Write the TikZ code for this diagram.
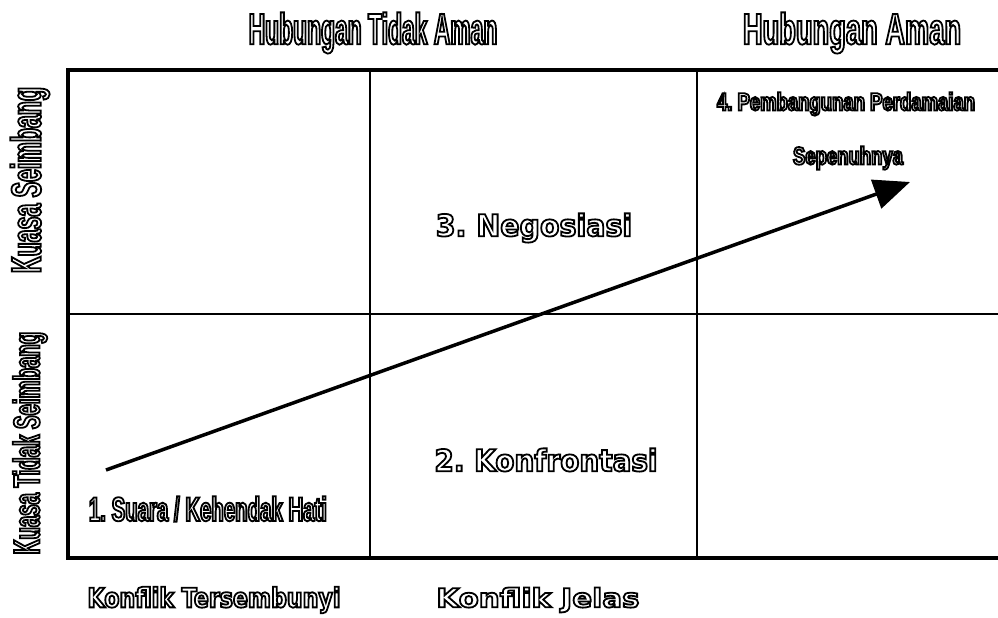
\documentclass[tikz,border=0pt]{standalone}
\usepackage{fontspec}
\usetikzlibrary{arrows.meta,positioning}
\frenchspacing
\newcommand{\fsz}[1]{\fontsize{#1}{#1}\selectfont}
% condensed and wide outline faces: stretch, size
\newcommand{\slim}[2]{\fontspec{Liberation Sans}[FakeStretch=#1]\bfseries\fsz{#2}}
\newcommand{\fat}[2]{\fontspec{DejaVu Sans}[FakeStretch=#1]\bfseries\fsz{#2}}
\newcommand{\hollow}[1]{\special{pdf:literal direct q 1 Tr 1.8 w}#1\special{pdf:literal direct Q}}
\begin{document}
\begin{tikzpicture}[x=1pt,y=-1pt,
  frame/.style={line width=4pt},
  grid/.style={line width=2pt},
  lbl/.style={inner sep=0pt}]
\useasboundingbox (0,0) rectangle (998,618);
% grid
\coordinate (nw) at (68,70);
\coordinate (sw) at (68,558);
\coordinate (ne) at (998,70);
\coordinate (se) at (998,558);
\draw[frame] (ne) -- (nw) -- (sw) -- (se);
\draw[grid] (370,70) -- (370,558);
\draw[grid] (697,70) -- (697,558);
\draw[grid] (68,314) -- (998,314);
% headings
\node[lbl,font=\slim{0.52}{44}] (unsafe) at (373,33) {\hollow{Hubungan Tidak Aman}};
\node[lbl,font=\slim{0.62}{44}] (safe) at (852,33) {\hollow{Hubungan Aman}};
\node[lbl,font=\slim{0.55}{42},rotate=90] (balanced) at (30,180) {\hollow{Kuasa Seimbang}};
\node[lbl,font=\slim{0.55}{37},rotate=90] (unbalanced) at (30,443) {\hollow{Kuasa Tidak Seimbang}};
\node[lbl,font=\fat{0.82}{27}] (hidden) at (214,600) {\hollow{Konflik Tersembunyi}};
\node[lbl,font=\fat{1.13}{26}] (open) at (538,600) {\hollow{Konflik Jelas}};
% stages
\node[lbl,font=\slim{0.6}{34}] (voice) at (208,509) {\hollow{1. Suara / Kehendak Hati}};
\node[lbl,font=\fat{0.93}{30}] (confront) at (546,460) {\hollow{2. Konfrontasi}};
\node[lbl,font=\fat{0.95}{30}] (negotiate) at (534,228) {\hollow{3. Negosiasi}};
\node[lbl,font=\slim{0.74}{25}] (peace) at (846,104) {\hollow{4. Pembangunan Perdamaian}};
\node[lbl,font=\slim{0.74}{25}] (full) at (848,158) {\hollow{Sepenuhnya}};
% arrow
\coordinate (start) at (106,470);
\coordinate (goal) at (910,182);
\draw[line width=3.5pt,-{Triangle[length=36pt,width=30pt]}] (start) -- (goal);
\end{tikzpicture}
\end{document}
